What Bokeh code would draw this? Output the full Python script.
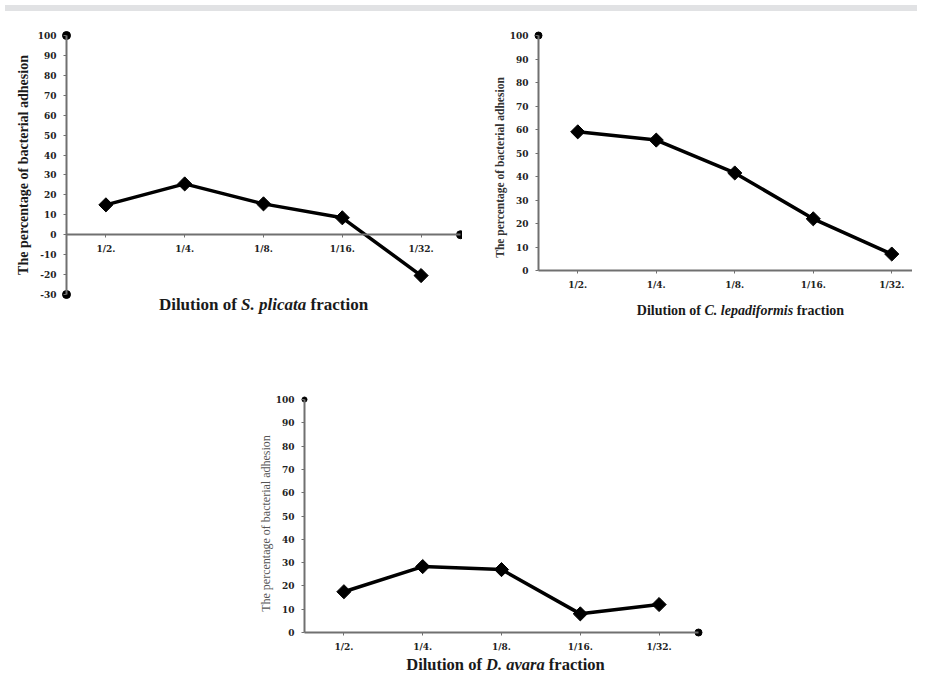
import math
from bokeh.plotting import figure
from bokeh.models import Range1d, FixedTicker, Label, Div
from bokeh.layouts import column, row
from bokeh.embed import file_html
from bokeh.resources import INLINE

# ---------------- data ----------------
dilutions = ["1/2.", "1/4.", "1/8.", "1/16.", "1/32."]
s_plicata = [15, 25.5, 15.5, 8.5, -20.5]
c_lepadiformis = [59, 55.5, 41.5, 22, 7]
d_avara = [17.5, 28.3, 27, 8, 12]
y_ticks_s = list(range(-30, 101, 10))
y_ticks_cd = list(range(0, 101, 10))
y_title = "The percentage of bacterial adhesion"
x_title_s = ("Dilution of", "S. plicata", "fraction")
x_title_c = ("Dilution of", "C. lepadiformis", "fraction")
x_title_d = ("Dilution of", "D. avara", "fraction")

# ---------------- text metrics (Times / Liberation Serif) ----------------
TB = {' ': 250, '.': 250, 'D': 722, 'i': 278, 'l': 278, 'u': 556, 't': 333, 'o': 500,
      'n': 556, 'f': 333, 'r': 444, 'a': 500, 'c': 444}
TBI = {' ': 250, '.': 250, 'S': 556, 'p': 500, 'l': 278, 'i': 278, 'c': 444, 'a': 500,
       't': 278, 'C': 667, 'e': 444, 'd': 500, 'f': 333, 'o': 500, 'r': 389, 'm': 778,
       's': 389, 'D': 722, 'v': 444}


def tw(s, table, size):
    return sum(table.get(ch, 500) for ch in s) * size / 1000.0


FONT = "Liberation Serif"
TICK_FONT = "DejaVu Serif"
AXIS_GRAY = "#707070"
DX, DY = 8, -2   # empirical placement correction


def make_chart(values, y_lo, y_hi, yticks, W, H, A, B, T, Bt, x_hi,
               title_parts, title_size, title_xy, ytitle_style, ytitle_size,
               ytitle_xy, ytitle_color, dots):
    """A,B: pixel x of axis start (x=0.5) / x_hi ; T,Bt: pixel y of y_hi / y_lo."""
    A += DX
    B += DX
    T += DY
    Bt += DY
    xs = list(range(1, len(dilutions) + 1))
    x_lo = 0.5
    u = (B - A) / (x_hi - x_lo)
    v = (Bt - T) / (y_hi - y_lo)
    xr = Range1d(x_lo - A / u, x_lo + (W - A) / u)
    yr = Range1d(y_lo - (H - Bt) / v, y_hi + T / v)
    p = figure(width=W, height=H, output_backend="svg", toolbar_location=None,
               x_range=xr, y_range=yr, min_border=0, min_border_left=0,
               min_border_right=0, min_border_top=0, min_border_bottom=0)
    p.outline_line_color = None
    p.grid.visible = False
    p.background_fill_color = "white"
    p.border_fill_color = "white"

    for ax in (p.xaxis[0], p.yaxis[0]):
        ax.axis_line_color = AXIS_GRAY
        ax.axis_line_width = 2
        ax.major_tick_line_color = AXIS_GRAY
        ax.major_tick_line_width = 1
        ax.major_tick_out = 3
        ax.major_tick_in = 0
        ax.minor_tick_line_color = None
        ax.major_label_text_font = TICK_FONT
        ax.major_label_text_font_style = "bold"
        ax.major_label_text_font_size = "9px"
        ax.major_label_text_color = "#222222"

    p.xaxis.ticker = FixedTicker(ticks=xs)
    p.xaxis.major_label_overrides = {x: lab for x, lab in zip(xs, dilutions)}
    p.xaxis.major_label_standoff = 6
    p.xaxis.fixed_location = 0
    p.xaxis.bounds = (x_lo, x_hi)
    p.yaxis.ticker = FixedTicker(ticks=yticks)
    p.yaxis.major_label_overrides = {t: str(t) for t in yticks}
    p.yaxis.major_label_standoff = 7
    p.yaxis.fixed_location = x_lo
    p.yaxis.bounds = (y_lo, y_hi)

    p.line(xs, values, line_color="black", line_width=3.5, line_join="round")
    p.scatter(xs, values, marker="square", angle=math.pi / 4, size=10, color="black")

    # axis end dots
    pts = {"top": (x_lo, y_hi), "bottom": (x_lo, y_lo), "right": (x_hi, 0)}
    for key, size in dots:
        px, py = pts[key]
        p.scatter([px], [py], marker="circle", size=size, color="black")

    # y title
    yx, yy = ytitle_xy
    p.add_layout(Label(x=yx + DX, y=yy - DY, x_units="screen", y_units="screen",
                       text=y_title, angle=math.pi / 2, text_align="center",
                       text_baseline="middle", text_font=FONT,
                       text_font_style=ytitle_style, text_font_size=f"{ytitle_size}px",
                       text_color=ytitle_color))

    # x title, mixed style
    a, b, c = title_parts
    sp = tw(" ", TB, title_size)
    wa = tw(a, TB, title_size)
    wb = tw(b, TBI, title_size)
    wc = tw(c, TB, title_size)
    total = wa + sp + wb + sp + wc
    cx, cy = title_xy
    cx += DX
    cy -= DY
    x0 = cx - total / 2
    for txt, style, xpos in ((a, "bold", x0), (b, "bold italic", x0 + wa + sp),
                             (c, "bold", x0 + wa + sp + wb + sp)):
        p.add_layout(Label(x=xpos, y=cy, x_units="screen", y_units="screen", text=txt,
                           text_align="left", text_baseline="middle", text_font=FONT,
                           text_font_style=style, text_font_size=f"{title_size}px",
                           text_color="#1a1a1a"))
    return p


# chart 1: figure at page (8,14), 462x308 ; axis x 66..460, y 35(100)..294(-30)
p1 = make_chart(s_plicata, -30, 100, y_ticks_s, 462, 308, 58, 452, 21, 280, 5.5,
                x_title_s, 17, (255, 18.5), "bold", 14, (14.5, 157.5), "#1a1a1a",
                [("top", 8), ("bottom", 8), ("right", 8)])

# chart 2: figure at page (470,14), 450x308 ; axis x 538.., y 35(100)..270(0)
p2 = make_chart(c_lepadiformis, 0, 100, y_ticks_cd, 450, 308, 68, 460.5, 21, 256, 5.5,
                x_title_c, 14, (270, 12), "bold", 11.5, (29, 155), "#333333",
                [("top", 7)])

# chart 3: figure at page (8,322), 912x354 ; axis x 304..698, y 399(100)..632(0)
p3 = make_chart(d_avara, 0, 100, y_ticks_cd, 912, 354, 296, 690, 77, 310, 5.5,
                x_title_d, 16.5, (497, 12), "normal", 12, (257, 153), "#555555",
                [("top", 5), ("right", 7)])

strip = Div(text="", width=912, height=6,
            styles={"background-color": "#e1e2e4"})
layout = column(strip, row(p1, p2), p3)

open("out.html", "w").write(file_html(layout, INLINE))
